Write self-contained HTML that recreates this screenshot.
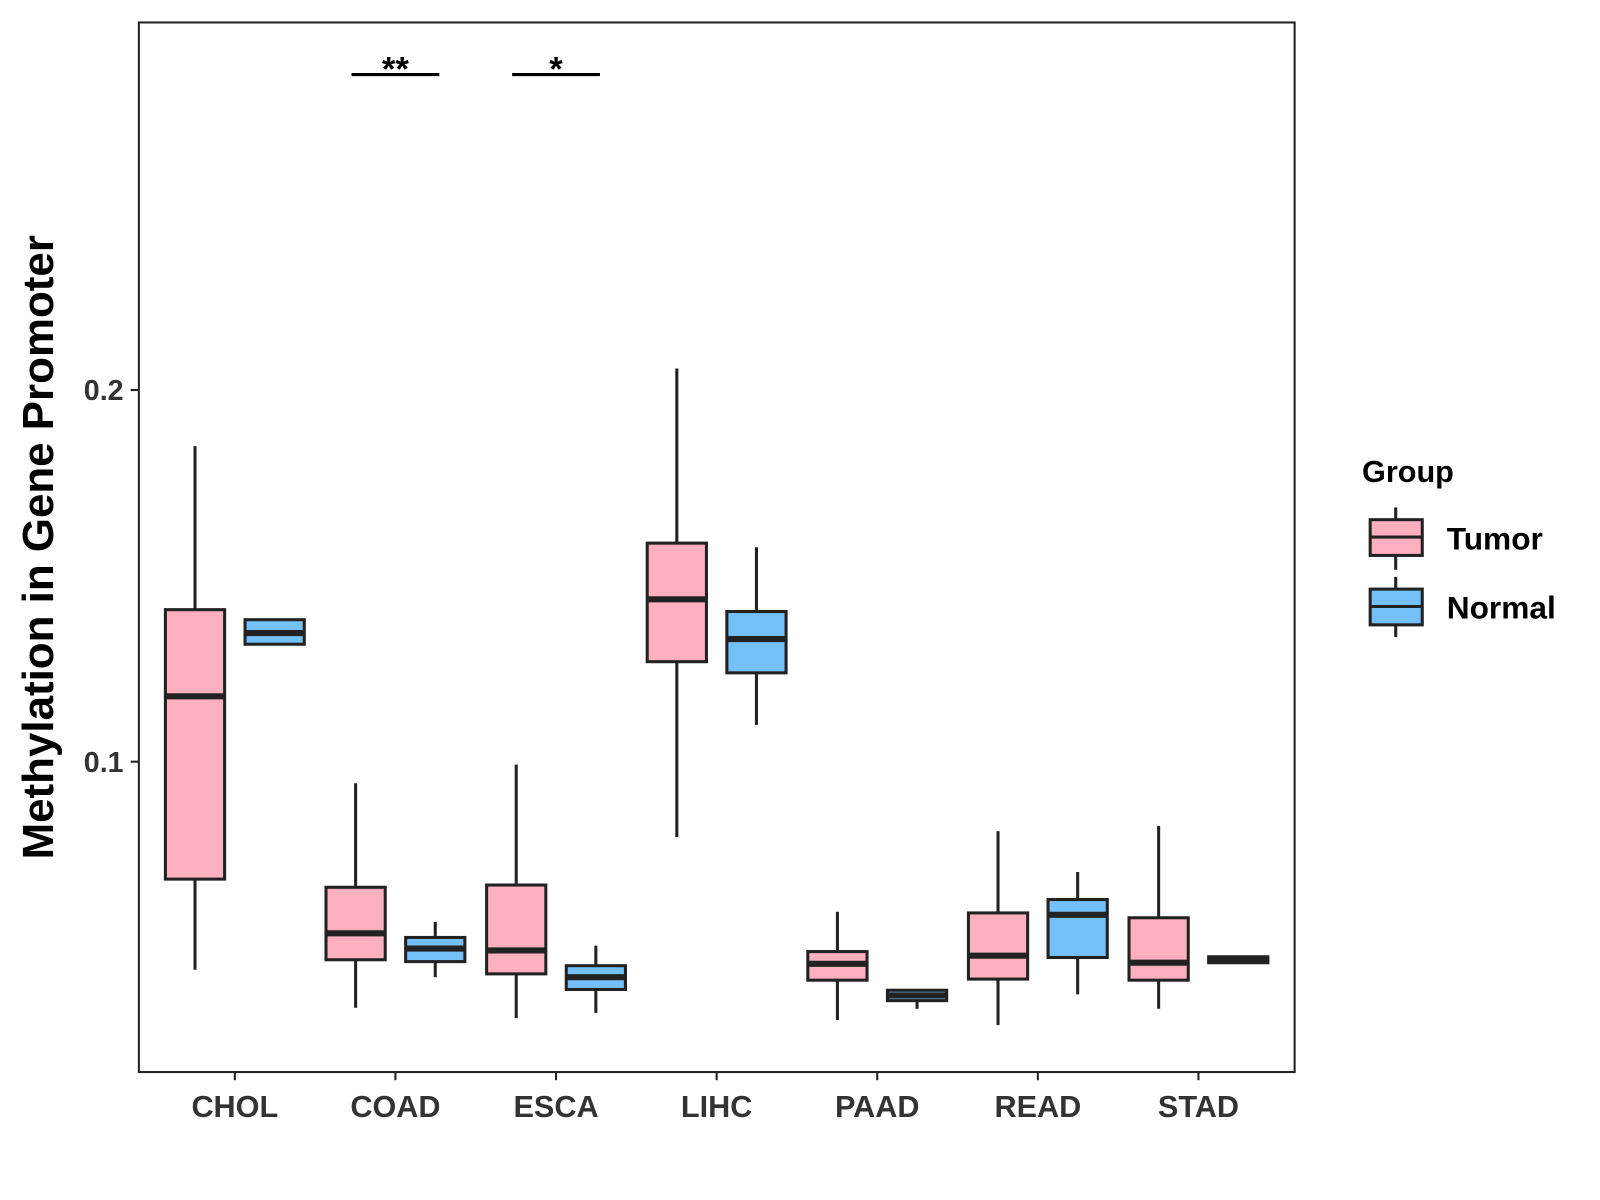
<!DOCTYPE html>
<html><head><meta charset="utf-8"><style>
html,body{margin:0;padding:0;background:#fff;}
svg{display:block;font-family:"Liberation Sans",Arial,sans-serif;}
</style></head><body>
<svg id="chart" width="1600" height="1200" viewBox="0 0 1600 1200">
<g transform="scale(1.021)">
<rect x="136" y="22" width="1132" height="1028" fill="#fff" stroke="#222" stroke-width="2"/>
<g id="marks"></g>
<g id="axes"></g>
<text x="52" y="536" transform="rotate(-90 52 536)" text-anchor="middle" font-size="43" font-weight="bold" fill="#000">Methylation in Gene Promoter</text>
<g>
<text x="1334" y="472" font-size="30" font-weight="bold" fill="#000">Group</text>
<g>
<line x1="1367" y1="497" x2="1367" y2="558" stroke="#222" stroke-width="3"/>
<rect x="1342" y="509" width="51" height="35" fill="#FEB0C1" stroke="#222" stroke-width="3"/>
<line x1="1342" y1="526" x2="1393" y2="526" stroke="#222" stroke-width="3"/>
<text x="1417" y="538" font-size="31" font-weight="bold" fill="#000">Tumor</text>
</g>
<g>
<line x1="1367" y1="565" x2="1367" y2="624" stroke="#222" stroke-width="3"/>
<rect x="1342" y="577" width="51" height="35" fill="#74C0F8" stroke="#222" stroke-width="3"/>
<line x1="1342" y1="594" x2="1393" y2="594" stroke="#222" stroke-width="3"/>
<text x="1417" y="606" font-size="31" font-weight="bold" fill="#000">Normal</text>
</g>
</g>
</g>
</svg>
<script>
const categories = ["CHOL","COAD","ESCA","LIHC","PAAD","READ","STAD"];
// [lowWhisker, q1, median, q3, highWhisker]
const tumorStats = [
 [0.0440,0.0684,0.1176,0.1409,0.1849],
 [0.0338,0.0467,0.0538,0.0662,0.0942],
 [0.0310,0.0429,0.0492,0.0668,0.0992],
 [0.0797,0.1269,0.1437,0.1588,0.2058],
 [0.0305,0.0412,0.0456,0.0489,0.0596],
 [0.0291,0.0415,0.0478,0.0593,0.0813],
 [0.0335,0.0412,0.0459,0.0580,0.0827]
];
const normalStats = [
 [0.1316,0.1316,0.1346,0.1382,0.1382],
 [0.0420,0.0462,0.0497,0.0527,0.0569],
 [0.0324,0.0387,0.0420,0.0451,0.0505],
 [0.1099,0.1239,0.1330,0.1404,0.1577],
 [0.0335,0.0357,0.0371,0.0385,0.0385],
 [0.0374,0.0473,0.0588,0.0629,0.0703],
 [0.0459,0.0459,0.0467,0.0475,0.0475]
];
const yTicks = [0.1, 0.2];
const yTickLabels = ["0.1", "0.2"];
const sigCategories = ["COAD","ESCA"];
const sigLabels = ["**","*"];

const NS="http://www.w3.org/2000/svg";
const y = v => 746 - (v - 0.1) * 3640;
const x = i => 230 + i * 157.3;
const marks = document.getElementById('marks');
const axes = document.getElementById('axes');
function mk(tag, attrs, parent){const e=document.createElementNS(NS,tag);for(const k in attrs)e.setAttribute(k,attrs[k]);parent.appendChild(e);return e;}

function drawBox(s, cx, fill, name){
  const g = mk('g',{},marks);
  
  
  const w=58;
  mk('line',{x1:cx,x2:cx,y1:y(s[4]),y2:y(s[0]),stroke:'#222','stroke-width':3},g);
  const top=y(s[3]), bot=y(s[1]);
  mk('rect',{x:cx-w/2,y:top,width:w,height:Math.max(bot-top,1),fill:fill,stroke:'#222','stroke-width':3},g);
  mk('line',{x1:cx-w/2,x2:cx+w/2,y1:y(s[2]),y2:y(s[2]),stroke:'#222','stroke-width':6},g);
}
categories.forEach((c,i)=>{
  drawBox(tumorStats[i], x(i)-39, '#FEB0C1', 'box-tumor-'+c.toLowerCase());
  drawBox(normalStats[i], x(i)+39, '#74C0F8', 'box-normal-'+c.toLowerCase());
  const t = mk('line',{x1:x(i),x2:x(i),y1:1050,y2:1058,stroke:'#222','stroke-width':2},axes);
  
  
  const l = mk('text',{x:x(i),y:1094,'text-anchor':'middle','font-size':30,'font-weight':'bold',fill:'#333'},axes);
  l.textContent=c;
  
  
});
yTicks.forEach((v,i)=>{
  const t = mk('line',{x1:128,x2:136,y1:y(v),y2:y(v),stroke:'#222','stroke-width':2},axes);
  
  
  const l = mk('text',{x:121,y:y(v)+10,'text-anchor':'end','font-size':28,'font-weight':'bold',fill:'#333'},axes);
  l.textContent=yTickLabels[i];
  
  
});
sigCategories.forEach((c,i)=>{
  const k = categories.indexOf(c);
  const ln = mk('line',{x1:x(k)-43,x2:x(k)+43,y1:73,y2:73,stroke:'#000','stroke-width':3},marks);
  
  
  const t = mk('text',{x:x(k),y:79,'text-anchor':'middle','font-size':34,'font-weight':'bold',fill:'#000'},marks);
  t.textContent=sigLabels[i];
  
  
});
</script>
</body></html>
